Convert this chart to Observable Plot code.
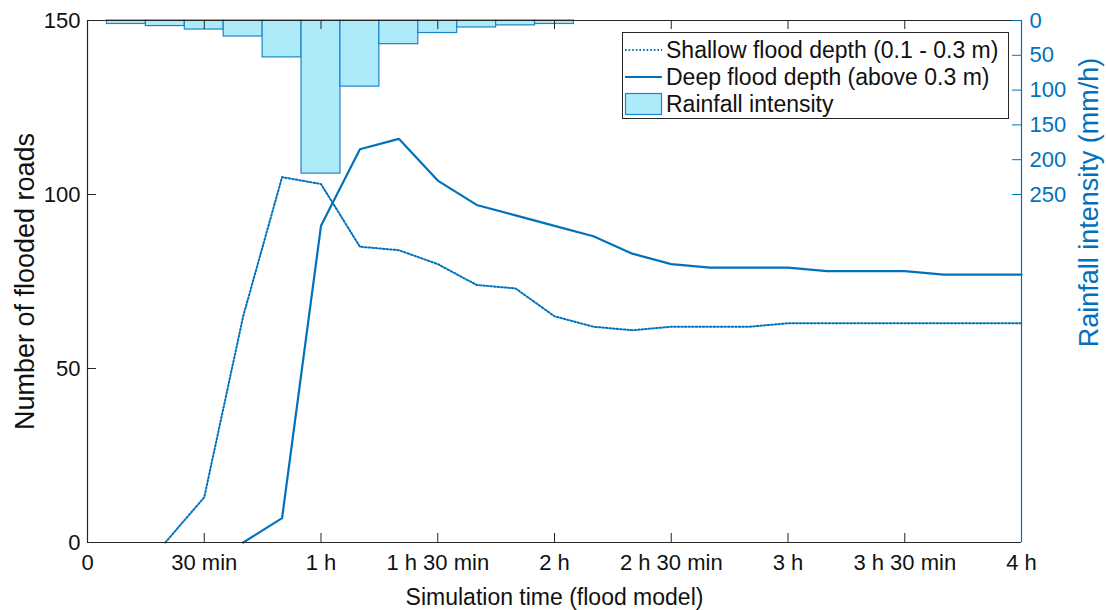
<!DOCTYPE html>
<html>
<head>
<meta charset="utf-8">
<script src="https://cdn.jsdelivr.net/npm/d3@7"></script>
<script src="https://cdn.jsdelivr.net/npm/@observablehq/plot@0.6"></script>
<style>
  html, body { margin: 0; padding: 0; background: #fff; }
  #wrap { position: relative; width: 1106px; height: 610px; font-family: "Liberation Sans", Arial, sans-serif; }
  #legend { position: absolute; left: 622px; top: 32px; width: 387px; height: 87px; border: 1px solid #262626; background: #fff; box-sizing: border-box; }
  .row { position: absolute; left: 0; height: 26px; display: flex; align-items: center; }
  .row span { font-size: 23px; color: #111; margin-left: 2px; white-space: nowrap; }
</style>
</head>
<body>
<div id="wrap"></div>
<script>
// ---- data ----
const shallowTime = [20,30,40,50,60,70,80,90,100,110,120,130,140,150,160,170,180,190,200,210,220,230,240];
const shallowCount = [0,13,65,105,103,85,84,80,74,73,65,62,61,62,62,62,63,63,63,63,63,63,63];
const deepTime = [40,50,60,70,80,90,100,110,120,130,140,150,160,170,180,190,200,210,220,230,240];
const deepCount = [0,7,91,113,116,104,97,94,91,88,83,80,79,79,79,78,78,78,77,77,77];
const rainTime = [10,20,30,40,50,60,70,80,90,100,110,120];
const rainIntensity = [5,8,13,23,53,220,95,34,18,10,7,5];
const rainBinWidth = 10;
const xTicks = [0,30,60,90,120,150,180,210,240];
const xTickLabels = ["0","30 min","1 h","1 h 30 min","2 h","2 h 30 min","3 h","3 h 30 min","4 h"];
const yTicks = [0,50,100,150];
const rainTicks = [0,50,100,150,200,250];
const yMax = 150, rainMax = 750, xMax = 240;

const blue = "#0072BD";
const axisGray = "#262626";
const barFill = "#ADEBFB";
const font = "'Liberation Sans', Arial, sans-serif";

const W = 1106, H = 610;
const mL = 87, mR = 85, mT = 20, mB = 68;
const pw = W - mL - mR, ph = H - mT - mB;
const tick = 9;

const toY = r => yMax - r * yMax / rainMax;
const shallow = shallowTime.map((t, i) => ({t, v: shallowCount[i]}));
const deep = deepTime.map((t, i) => ({t, v: deepCount[i]}));
const rain = rainTime.map((t, i) => ({t, r: rainIntensity[i]}));

const chart = Plot.plot({
  width: W, height: H,
  marginLeft: mL, marginRight: mR, marginTop: mT, marginBottom: mB,
  style: {fontFamily: font, fontSize: "22px", color: "#111", background: "#fff", overflow: "visible"},
  x: {domain: [0, xMax]},
  y: {domain: [0, yMax]},
  marks: [
    Plot.rect(rain, {x1: d => d.t - rainBinWidth / 2, x2: d => d.t + rainBinWidth / 2, y1: () => yMax, y2: d => toY(d.r), fill: barFill, stroke: "#1a85c8", strokeWidth: 1.2}),
    Plot.line(shallow, {x: "t", y: "v", stroke: blue, strokeWidth: 2, strokeDasharray: "1.6,2"}),
    Plot.line(deep, {x: "t", y: "v", stroke: blue, strokeWidth: 2.2}),
    // frame
    Plot.ruleY([0], {stroke: axisGray, strokeWidth: 1.2}),
    Plot.ruleY([yMax], {stroke: axisGray, strokeWidth: 1.2}),
    Plot.ruleX([0], {stroke: axisGray, strokeWidth: 1.2}),
    Plot.ruleX([xMax], {stroke: blue, strokeWidth: 1.2}),
    // inward ticks
    Plot.tickX(xTicks.slice(1, -1), {x: d => d, stroke: axisGray, insetTop: ph - tick}),
    Plot.tickX(xTicks.slice(1, -1), {x: d => d, stroke: axisGray, insetBottom: ph - tick}),
    Plot.tickY(yTicks, {y: d => d, stroke: axisGray, insetRight: pw - tick}),
    Plot.tickY(rainTicks.map(toY), {y: d => d, stroke: blue, insetLeft: pw - tick}),
    // axes labels
    Plot.axisX({ticks: xTicks, tickFormat: (d, i) => xTickLabels[i], tickSize: 0, tickPadding: 12, label: null, fontSize: 22}),
    Plot.axisY({ticks: yTicks, tickFormat: d => String(d), tickSize: 0, tickPadding: 7, label: null, fontSize: 22}),
    Plot.axisY({anchor: "right", ticks: rainTicks.map(toY), tickFormat: (d, i) => String(rainTicks[i]), tickSize: 0, tickPadding: 8, label: null, color: blue, fontSize: 22}),
    Plot.text(["Number of flooded roads"], {frameAnchor: "left", textAnchor: "middle", dx: -62, rotate: -90, lineAnchor: "middle", fontSize: 27, fill: "#111"}),
    Plot.text(["Rainfall intensity (mm/h)"], {frameAnchor: "right", textAnchor: "middle", dx: 68, dy: -79, rotate: -90, lineAnchor: "middle", fontSize: 27, fill: blue}),
    Plot.text(["Simulation time (flood model)"], {frameAnchor: "bottom", textAnchor: "middle", dy: 55, lineAnchor: "middle", fontSize: 23, fill: "#111"})
  ]
});

const wrap = document.getElementById("wrap");
wrap.appendChild(chart);

// legend
const legendItems = [
  {label: "Shallow flood depth (0.1 - 0.3 m)", kind: "dotted"},
  {label: "Deep flood depth (above 0.3 m)", kind: "solid"},
  {label: "Rainfall intensity", kind: "patch"}
];
const legend = document.createElement("div");
legend.id = "legend";
const rowTops = [4, 31, 58];
legendItems.forEach((it, i) => {
  const row = document.createElement("div");
  row.className = "row";
  row.style.top = rowTops[i] + "px";
  let sample;
  if (it.kind === "patch") {
    sample = `<svg width="41" height="24"><rect x="2.5" y="1.5" width="36" height="21" fill="${barFill}" stroke="#1a85c8" stroke-width="1.2"/></svg>`;
  } else {
    sample = `<svg width="41" height="24"><line x1="2" x2="39" y1="12" y2="12" stroke="${blue}" stroke-width="2" ${it.kind === "dotted" ? 'stroke-dasharray="1.6,2"' : ''}/></svg>`;
  }
  row.innerHTML = sample + `<span>${it.label}</span>`;
  legend.appendChild(row);
});
wrap.appendChild(legend);
</script>
</body>
</html>
